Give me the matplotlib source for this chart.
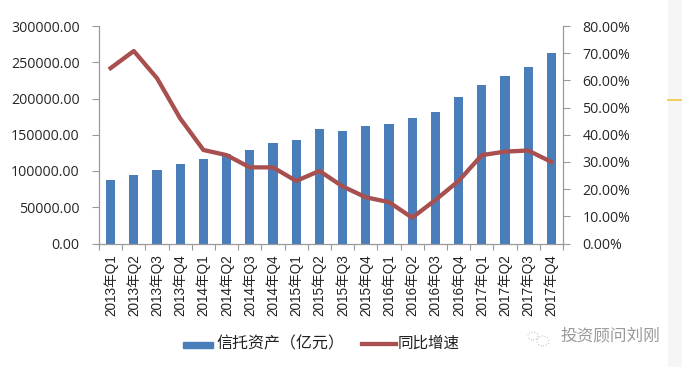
import matplotlib
matplotlib.use('Agg')
import matplotlib.pyplot as plt
from matplotlib.patches import Rectangle, Circle, Ellipse
from matplotlib.lines import Line2D

plt.rcParams['font.family'] = ['Noto Sans CJK SC', 'DejaVu Sans']

quarters = ['2013年Q1','2013年Q2','2013年Q3','2013年Q4','2014年Q1','2014年Q2','2014年Q3','2014年Q4',
            '2015年Q1','2015年Q2','2015年Q3','2015年Q4','2016年Q1','2016年Q2','2016年Q3','2016年Q4',
            '2017年Q1','2017年Q2','2017年Q3','2017年Q4']
assets = [87600,94000,101000,109500,117000,123500,129600,139000,143000,158000,
          155000,162000,165000,173000,181500,202000,219000,231000,243500,263000]
growth = [64.5,70.8,60.8,46,34.4,32.5,28,28,23,26.7,21,17,15.2,9.5,16,23,32.5,33.8,34.2,30]
left_ticks = [0,50000,100000,150000,200000,250000,300000]
right_ticks = [0,10,20,30,40,50,60,70,80]
series_names = ['信托资产（亿元）','同比增速']
watermark = '投资顾问刘刚'

W, H = 682, 367
fig = plt.figure(figsize=(W/100, H/100), dpi=100, facecolor='white')
fig.patches.append(Rectangle((668/W, 0), 14/W, 1, transform=fig.transFigure, color='#f6f6f6', zorder=0))
fig.add_artist(Line2D([668/W, 682/W], [1-100/H, 1-100/H], color='#f0c93a', lw=1.2))

L, R, T, B = 99, 563, 26, 243.5
ax = fig.add_axes([L/W, 1-B/H, (R-L)/W, (B-T)/H])
ax.patch.set_alpha(0)
x = list(range(len(quarters)))
ax.bar(x, assets, width=0.4, color='#4a7ebb', zorder=2)
ax.set_xlim(-0.5, len(x)-0.5)
ax.set_ylim(0, 300000)
ax.set_yticks(left_ticks)
ax.set_yticklabels([f'{v:.2f}' for v in left_ticks], fontsize=10.2, color='#262626', family=['Open Sans','DejaVu Sans'])
ax.set_xticks([i-0.5 for i in x]+[len(x)-0.5])
ax.set_xticklabels([])
for i, q in zip(x, quarters):
    ax.annotate(q, (i, 0), xycoords=('data','axes fraction'), xytext=(0, -7.5), textcoords='offset points',
                rotation=90, ha='center', va='top', fontsize=9.8, color='#222222',
                family=['Liberation Sans','Noto Sans CJK SC'])
ax.tick_params(axis='y', length=5, width=0.8, color='#999999', pad=9, direction='out')
ax.tick_params(axis='x', length=4, width=0.8, color='#999999', direction='out')
for s in ['top','right']:
    ax.spines[s].set_visible(False)
for s in ['left','bottom']:
    ax.spines[s].set_color('#999999')
    ax.spines[s].set_linewidth(0.9)

ax2 = ax.twinx()
ax2.plot(x, growth, color='#a8504f', lw=3.1, zorder=3, solid_joinstyle='round')
ax2.set_ylim(0, 80)
ax2.set_yticks(right_ticks)
ax2.set_yticklabels([f'{v:.2f}%' for v in right_ticks], fontsize=10.2, color='#262626', family=['Open Sans','DejaVu Sans'])
ax2.tick_params(axis='y', length=5, width=0.8, color='#999999', pad=9, direction='out')
for s in ['top','left','bottom']:
    ax2.spines[s].set_visible(False)
ax2.spines['right'].set_color('#999999')
ax2.spines['right'].set_linewidth(0.9)

# legend
fig.add_artist(Rectangle((183/W, 1-348/H), 30/W, 6/H, transform=fig.transFigure, color='#4a7ebb'))
fig.text(216/W, 1-343.5/H, series_names[0], fontsize=11.5, va='center', ha='left', color='#222222')
fig.add_artist(Line2D([362/W, 396/W], [1-344/H, 1-344/H], color='#a8504f', lw=3.1))
fig.text(398/W, 1-343.5/H, series_names[1], fontsize=11.2, va='center', ha='left', color='#222222')

# watermark
fig.text(560/W, 1-337/H, watermark, fontsize=12, va='center', ha='left', color='#9a9a9a')
fig.add_artist(Ellipse((533/W, 1-336/H), 10/W, 8/H, transform=fig.transFigure, fill=False,
                       edgecolor='#c4c4c4', lw=0.8, ls=':'))
fig.add_artist(Ellipse((543/W, 1-341/H), 12/W, 10/H, transform=fig.transFigure, fill=False,
                       edgecolor='#c4c4c4', lw=0.8, ls=':'))
fig.savefig('out.png', dpi=100, facecolor='white')
